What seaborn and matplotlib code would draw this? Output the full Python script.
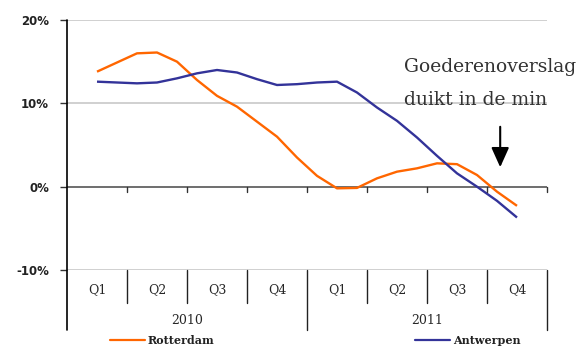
import numpy as np
import pandas as pd
import matplotlib
matplotlib.use("Agg")
import matplotlib.pyplot as plt
import seaborn as sns
from matplotlib.lines import Line2D

# ---- data ----
quarters = ["Q1", "Q2", "Q3", "Q4", "Q1", "Q2", "Q3", "Q4"]
years = ["2010", "2011"]
y_ticks = [-10, 0, 10, 20]
y_tick_labels = ["-10%", "0%", "10%", "20%"]
# positions in quarter units (0 = Q1 2010 centre), one reading every third of a quarter
pos = [i / 3 for i in range(22)]
rotterdam = [13.8, 14.9, 16.0, 16.1, 15.0, 12.8, 10.9, 9.6, 7.8, 6.0, 3.5,
             1.3, -0.2, -0.15, 1.0, 1.8, 2.2, 2.8, 2.7, 1.4, -0.6, -2.3]
antwerpen = [12.6, 12.5, 12.4, 12.5, 13.0, 13.6, 14.0, 13.7, 12.9, 12.2, 12.3,
             12.5, 12.6, 11.3, 9.5, 7.9, 5.9, 3.7, 1.6, 0.0, -1.7, -3.7]
series_names = ["Rotterdam", "Antwerpen"]
colors = ["#FF6600", "#333399"]
annotation_lines = ["Goederenoverslag", "duikt in de min"]

df = pd.DataFrame({
    "pos": pos * 2,
    "value": rotterdam + antwerpen,
    "haven": [series_names[0]] * len(pos) + [series_names[1]] * len(pos),
})

sns.set_theme(style="white")
plt.rcParams["font.family"] = ["DejaVu Serif"]

W, H = 587, 349
fig = plt.figure(figsize=(W / 100, H / 100), dpi=100)
ax = fig.add_axes([67 / W, (H - 270) / H, 480 / W, 250 / H])

sns.lineplot(data=df, x="pos", y="value", hue="haven", palette=colors,
             linewidth=1.7, ax=ax, legend=False, sort=False)
for ln in ax.get_lines():
    ln.set_solid_joinstyle("round")
    ln.set_solid_capstyle("butt")

ax.set_xlim(-0.5, 7.5)
ax.set_ylim(-10, 20)
ax.set_xlabel("")
ax.set_ylabel("")
for s in ["top", "right", "bottom", "left"]:
    ax.spines[s].set_visible(False)

# gridlines
for v in [20, 10, -10]:
    ax.axhline(v, color="#d0d0d0", lw=1.4, zorder=0)
ax.axhline(0, color="#555555", lw=1.2, zorder=1)

ax.set_xticks([])
ax.set_yticks(y_ticks)
ax.set_yticklabels(y_tick_labels, fontsize=8.5, fontweight="bold",
                   family="DejaVu Sans", color="#222222")
ax.tick_params(axis="y", left=True, length=5, width=1, color="#333333", pad=8)

px = 30 / 250  # data units per pixel (y)
# left axis line extending down through the table
ax.plot([-0.5, -0.5], [20, -10 - 60 * px], color="black", lw=1.2, clip_on=False)

# ticks on the zero line
for b in np.arange(0.5, 8, 1):
    ax.plot([b, b], [0, -5 * px], color="#333333", lw=1, clip_on=False)

# category table
for b in np.arange(0.5, 7.5, 1):
    if b == 3.5:
        continue
    ax.plot([b, b], [-10, -10 - 33 * px], color="#222222", lw=1, clip_on=False)
for b in [3.5, 7.5]:
    ax.plot([b, b], [-10, -10 - 60 * px], color="#222222", lw=1, clip_on=False)
for i, q in enumerate(quarters):
    ax.text(i, -10 - 20 * px, q, ha="center", va="center", fontsize=9, clip_on=False)
for j, yv in enumerate(years):
    ax.text(1.5 + 4 * j, -10 - 51 * px, yv, ha="center", va="center", fontsize=9,
            clip_on=False)

# annotation
for k, line in enumerate(annotation_lines):
    fig.text(404 / W, 1 - (67 + 33 * k) / H, line, fontsize=13.5, color="#333333",
             va="center", ha="left")
ax.annotate("", xy=(6.72, 20 - (170 - 20) * px), xytext=(6.72, 20 - (124 - 20) * px),
            arrowprops=dict(arrowstyle="-|>,head_width=0.45,head_length=1.0",
                            color="black", lw=1.5))

# legend
for name, c, x0 in zip(series_names, colors, [110, 415]):
    fig.add_artist(Line2D([x0 / W, (x0 + 35) / W], [1 - 340 / H] * 2, color=c, lw=1.6))
    fig.text((x0 + 38) / W, 1 - 340 / H, name, fontsize=8, fontweight="bold",
             va="center", ha="left", color="#222222")

fig.savefig("out.png", dpi=100)
